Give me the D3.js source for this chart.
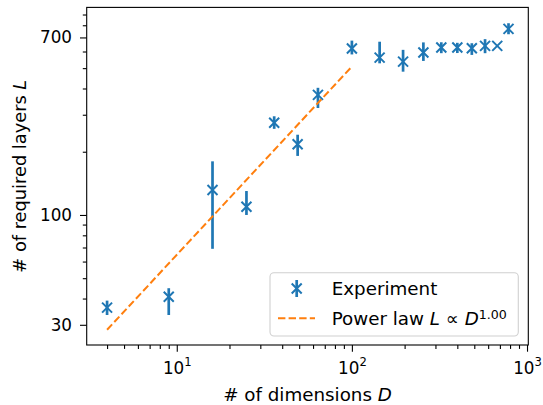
<!DOCTYPE html>
<html>
<head>
<meta charset="utf-8">
<script src="https://cdn.jsdelivr.net/npm/d3@7"></script>
<style>
html,body{margin:0;padding:0;background:#fff;}
svg{display:block;}
text{font-family:"DejaVu Sans",sans-serif;fill:#000;}
</style>
</head>
<body>
<svg id="chart" width="543" height="405"></svg>
<script>
// ---- data ----
const dims = [4, 9, 16, 25, 36, 49, 64, 100, 144, 196, 256, 324, 400, 484, 576, 676, 784];
const layers = [36.2, 40.8, 131.5, 109.5, 275, 217, 373, 620, 561, 537, 593, 627, 627, 622, 638, 638, 769];
const layersLo = [33.4, 33.4, 69, 100, 257, 191, 323, 581, 527, 481, 541, 589, 590, 578, 589, 638, 725];
const layersHi = [39.1, 44.8, 180, 130, 295, 241, 403, 676, 668, 611, 663, 664, 660, 657, 687, 638, 818];
const powerD = [4, 100];
const powerL = [28.4, 509];
const xMajorTicks = [10, 100, 1000];
const xTickExp = ["1", "2", "3"];
const yMajorTicks = [30, 100, 700];
const yTickLabels = ["30", "100", "700"];

// ---- layout ----
const svg = d3.select("#chart");
const pL = 86.7, pR = 528.3, pT = 7.4, pB = 345;
const blue = "#1f77b4", orange = "#ff7f0e";

const x = d3.scaleLog().domain([3.06, 1017]).range([pL, pR]);
const y = d3.scaleLog().domain([973, 24.04]).range([pT, pB]);

function minorTicks(lo, hi) {
  const out = [];
  for (let p = Math.floor(Math.log10(lo)); p <= Math.ceil(Math.log10(hi)); p++) {
    for (let m = 2; m <= 9; m++) {
      const v = m * Math.pow(10, p);
      if (v >= lo && v <= hi) out.push(v);
    }
  }
  return out;
}

const g = svg.append("g");

// error bars
g.selectAll("line.err").data(dims).enter().append("line")
  .attr("class", "err")
  .attr("x1", (d) => x(d)).attr("x2", (d) => x(d))
  .attr("y1", (d, i) => y(layersLo[i])).attr("y2", (d, i) => y(layersHi[i]))
  .attr("stroke", blue).attr("stroke-width", 2.7);

// x markers
const ms = 5;
const mk = g.selectAll("g.mk").data(dims).enter().append("g")
  .attr("class", "mk")
  .attr("transform", (d, i) => `translate(${x(d)},${y(layers[i])})`);
mk.append("path")
  .attr("d", `M${-ms},${-ms}L${ms},${ms}M${-ms},${ms}L${ms},${-ms}`)
  .attr("stroke", blue).attr("stroke-width", 2).attr("fill", "none");

// power law line
const line = d3.line().x((d) => x(d[0])).y((d) => y(d[1]));
g.append("path")
  .datum(powerD.map((d, i) => [d, powerL[i]]))
  .attr("d", line)
  .attr("fill", "none").attr("stroke", orange).attr("stroke-width", 2)
  .attr("stroke-dasharray", "7.4,3.2");

// axes
const tickFont = "16.8px";
const xAxisG = svg.append("g").attr("transform", `translate(0,${pB})`)
  .call(d3.axisBottom(x).tickValues(xMajorTicks).tickSize(6.7).tickPadding(10).tickFormat(() => ""));
xAxisG.selectAll(".tick text").each(function (d, i) {
  const t = d3.select(this);
  t.append("tspan").text("10");
  t.append("tspan").attr("dy", "-0.7em").attr("font-size", "11.6px").text(xTickExp[i]);
});
svg.append("g").attr("transform", `translate(0,${pB})`)
  .call(d3.axisBottom(x).tickValues(minorTicks(3.06, 1017).filter((v) => !xMajorTicks.includes(v))).tickSize(3.9).tickFormat(() => ""));

const yAxisG = svg.append("g").attr("transform", `translate(${pL},0)`)
  .call(d3.axisLeft(y).tickValues(yMajorTicks).tickSize(6.7).tickPadding(8).tickFormat((d, i) => yTickLabels[i]));
svg.append("g").attr("transform", `translate(${pL},0)`)
  .call(d3.axisLeft(y).tickValues(minorTicks(24.04, 973).filter((v) => !yMajorTicks.includes(v))).tickSize(3.9).tickFormat(() => ""));

svg.selectAll(".domain").remove();
svg.selectAll(".tick line").attr("stroke", "#000").attr("stroke-width", 1.1);
svg.selectAll(".tick text").attr("font-family", "DejaVu Sans").attr("font-size", tickFont).attr("fill", "#000");

// frame
svg.append("rect").attr("x", pL).attr("y", pT).attr("width", pR - pL).attr("height", pB - pT)
  .attr("fill", "none").attr("stroke", "#000").attr("stroke-width", 1.1);

// axis labels
const labFont = "18.3px";
const xl = svg.append("text").attr("x", (pL + pR) / 2).attr("y", 401).attr("text-anchor", "middle").attr("font-size", labFont);
xl.append("tspan").text("# of dimensions ");
xl.append("tspan").attr("font-style", "italic").text("D");

const yl = svg.append("text").attr("transform", `translate(25.5,${(pT + pB) / 2}) rotate(-90)`)
  .attr("text-anchor", "middle").attr("font-size", "17.8px");
yl.append("tspan").text("# of required layers ");
yl.append("tspan").attr("font-style", "italic").text("L");

// legend
const lg = svg.append("g");
lg.append("rect").attr("x", 270).attr("y", 272.7).attr("width", 248.3).attr("height", 63.3)
  .attr("rx", 4).attr("fill", "#fff").attr("fill-opacity", 0.8).attr("stroke", "#d0d0d0").attr("stroke-width", 1.1);
lg.append("line").attr("x1", 296.7).attr("x2", 296.7).attr("y1", 280).attr("y2", 297)
  .attr("stroke", blue).attr("stroke-width", 2.7);
lg.append("path").attr("transform", "translate(296.7,288.5)")
  .attr("d", `M${-ms},${-ms}L${ms},${ms}M${-ms},${ms}L${ms},${-ms}`)
  .attr("stroke", blue).attr("stroke-width", 2).attr("fill", "none");
lg.append("line").attr("x1", 278).attr("x2", 315).attr("y1", 318.3).attr("y2", 318.3)
  .attr("stroke", orange).attr("stroke-width", 2).attr("stroke-dasharray", "7.4,3.2");
lg.append("text").attr("x", 331.7).attr("y", 295).attr("font-size", labFont).text("Experiment");
const lt = lg.append("text").attr("x", 331.7).attr("y", 324.5).attr("font-size", labFont);
lt.append("tspan").text("Power law ");
lt.append("tspan").attr("font-style", "italic").text("L");
lt.append("tspan").text(" \u221d ");
lt.append("tspan").attr("font-style", "italic").text("D");
lt.append("tspan").attr("dy", "-0.45em").attr("font-size", "12.6px").text("1.00");
</script>
</body>
</html>
